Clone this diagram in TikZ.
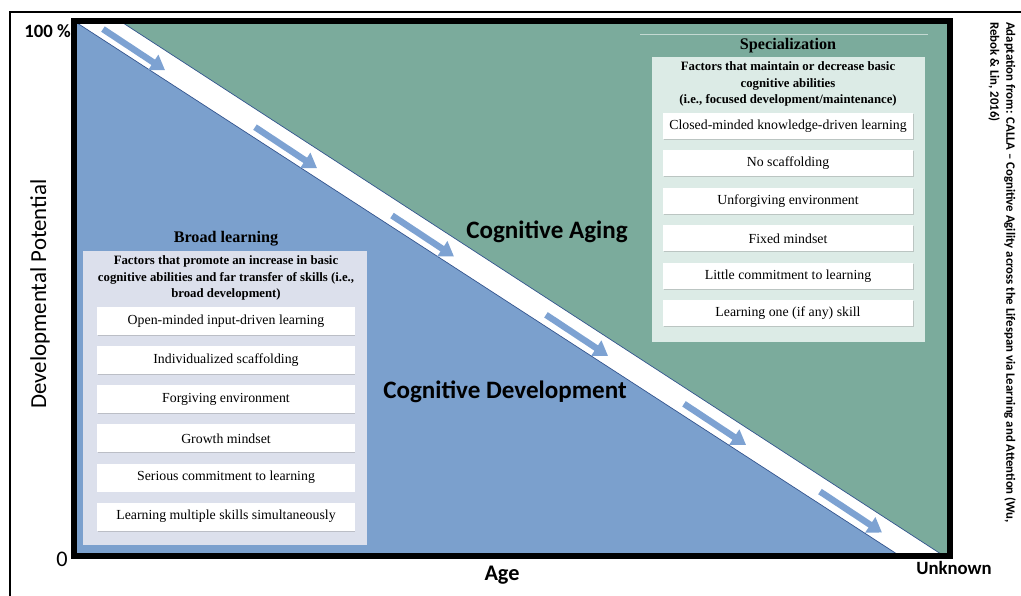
\documentclass[tikz,border=0pt]{standalone}
\usepackage{fontspec}
\setmainfont{Liberation Serif}
\setsansfont{Carlito}
\usetikzlibrary{positioning,shadows,arrows.meta}
\definecolor{devblue}{HTML}{7BA0CD}
\definecolor{agegreen}{HTML}{7BAB9C}
\definecolor{flowblue}{HTML}{7DA2D2}
\definecolor{edgeblue}{HTML}{34558F}
\definecolor{broadbg}{HTML}{DCE0EC}
\definecolor{specbg}{HTML}{DCEBE6}

\begin{document}
\begin{tikzpicture}[x=0.03cm, y=-0.03cm]
    \tikzset{
        axislabel/.style={font=\sffamily\bfseries\fontsize{16}{18}\selectfont, inner sep=0pt},
        regionlabel/.style={font=\sffamily\bfseries\fontsize{21.4}{24}\selectfont, inner sep=0pt},
        paneltitle/.style={font=\bfseries\fontsize{13.8}{15}\selectfont, inner sep=0pt},
        panelhead/.style={font=\bfseries\fontsize{10.9}{14}\selectfont, align=center, inner sep=0pt},
        leftitem/.style={fill=white, minimum width=7.71cm, minimum height=0.84cm, inner sep=0pt,
            font=\fontsize{11.8}{13}\selectfont,
            drop shadow={shadow xshift=0.5pt, shadow yshift=-0.8pt, opacity=0.35}},
        rightitem/.style={leftitem, minimum width=7.5cm, minimum height=0.78cm},
        flowarrow/.style={draw=flowblue, line width=5.5pt, -{Triangle[length=12pt, width=15pt]}},
        bandedge/.style={draw=edgeblue, line width=0.6pt}
    }
    \useasboundingbox (0,0) rectangle (1021,596);

    % outer frame, open to the right and bottom
    \draw[line width=1.4pt] (10,600) -- (10,12) -- (1025,12);

    % the two regions and the white band between them
    \fill[white] (74,21) rectangle (950,556);
    \fill[devblue] (74,21) -- (900,556) -- (74,556) -- cycle;
    \fill[agegreen] (120,21) -- (950,21) -- (950,556) -- (944,556) -- cycle;
    \draw[bandedge] (74,21) -- (900,556);
    \draw[bandedge] (120,21) -- (944,556);

    \foreach \sx [count=\i] in {103,255,392,546,684,820} {
        \coordinate (flow\i a) at (\sx, {22+0.645*(\sx-92)});
        \coordinate (flow\i b) at ({\sx+62}, {22+0.645*(\sx-92)+41});
        \draw[flowarrow] (flow\i a) -- (flow\i b);
    }

    \draw[line width=4.3pt] (74,21) rectangle (950,556);

    % axis texts
    \node[axislabel, anchor=east] (full) at (71,31) {100 \%};
    \node[font=\sffamily\fontsize{19}{21}\selectfont, inner sep=0pt] (zero) at (62,559) {0};
    \node[axislabel, font=\sffamily\bfseries\fontsize{19}{21}\selectfont] (age) at (502,575) {Age};
    \node[axislabel] (unknown) at (954,568) {Unknown};
    \node[rotate=90, font=\sffamily\fontsize{19.5}{21}\selectfont, inner sep=0pt] (potential) at (40,294) {Developmental Potential};
    \node[rotate=-90, anchor=north west, align=left, inner sep=0pt,
        font=\sffamily\bfseries\fontsize{10.9}{13.5}\selectfont] (credit) at (1016,22)
        {Adaptation from: CALLA -- Cognitive Agility across the Lifespan via Learning and Attention (Wu,\\Rebok \& Lin, 2016)};

    \node[regionlabel] (aging) at (547,232) {Cognitive Aging};
    \node[regionlabel] (development) at (505,392) {Cognitive Development};

    % broad learning panel
    \node[fill=broadbg, minimum width=8.52cm, minimum height=8.82cm, inner sep=0pt] (broadpanel) at (225,398) {};
    \node[paneltitle] (broadtitle) at (226,239) {Broad learning};
    \node[panelhead] (broadhead) at (226,278) {Factors that promote an increase in basic\\cognitive abilities and far transfer of skills (i.e.,\\broad development)};
    \node[leftitem] (l1) at (226,321) {Open-minded input-driven learning};
    \node[leftitem, below=0.32cm of l1] (l2) {Individualized scaffolding};
    \node[leftitem, below=0.32cm of l2] (l3) {Forgiving environment};
    \node[leftitem, below=0.32cm of l3] (l4) {Growth mindset};
    \node[leftitem, below=0.32cm of l4] (l5) {Serious commitment to learning};
    \node[leftitem, below=0.32cm of l5] (l6) {Learning multiple skills simultaneously};

    % specialization panel
    \draw[draw=white!55!agegreen, line width=0.6pt] (640,34) -- (928,34);
    \node[fill=specbg, minimum width=8.19cm, minimum height=8.55cm, inner sep=0pt] (specpanel) at (788.5,199.5) {};
    \node[paneltitle] (spectitle) at (788,46) {Specialization};
    \node[panelhead] (spechead) at (788,84) {Factors that maintain or decrease basic\\cognitive abilities\\(i.e., focused development/maintenance)};
    \node[rightitem] (r1) at (788,126) {Closed-minded knowledge-driven learning};
    \node[rightitem, below=0.33cm of r1] (r2) {No scaffolding};
    \node[rightitem, below=0.33cm of r2] (r3) {Unforgiving environment};
    \node[rightitem, below=0.33cm of r3] (r4) {Fixed mindset};
    \node[rightitem, below=0.33cm of r4] (r5) {Little commitment to learning};
    \node[rightitem, below=0.33cm of r5] (r6) {Learning one (if any) skill};

\end{tikzpicture}
\end{document}
